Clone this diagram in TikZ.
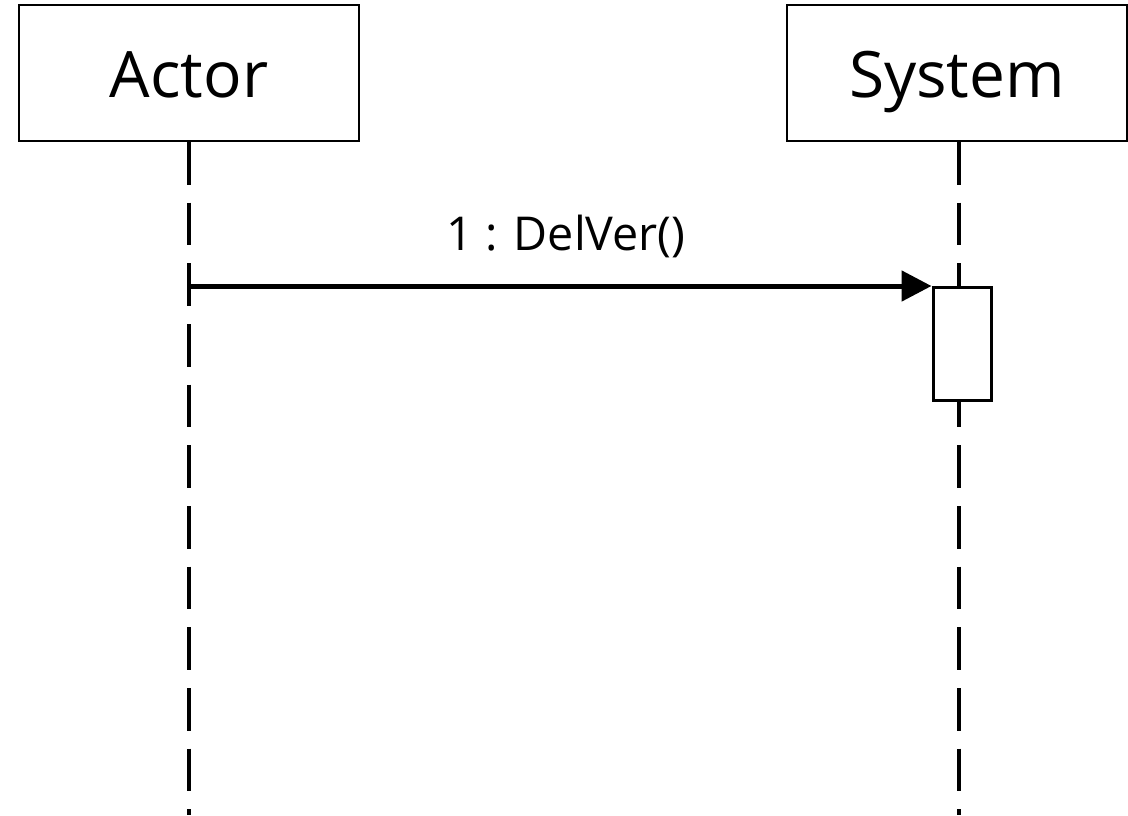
\documentclass[tikz,border=0pt]{standalone}
\usepackage{fontspec}
\setmainfont{Open Sans}
\usetikzlibrary{arrows.meta,positioning}

\begin{document}
\begin{tikzpicture}[x=0.75pt,y=-0.75pt,
    obj/.style={draw,line width=1.5pt,minimum width=255pt,minimum height=102pt,inner sep=0pt,
                text height=36pt,text depth=0pt,font=\fontsize{48}{58}\selectfont},
    life/.style={line width=3pt,dash pattern=on 32pt off 13.5pt},
    exec/.style={draw,fill=white,line width=2.25pt,minimum width=43.5pt,minimum height=85pt,inner sep=0pt},
    msg/.style={line width=3.75pt,-{Triangle[length=22.5pt,width=22.5pt]}}]
    \useasboundingbox (0,0) rectangle (1128,815);

    \node[obj]               (actor) at (189,73)  {Actor};
    \node[obj]               (sys)   at (957,73)  {System};
    \coordinate              (actorend) at (189,815);
    \coordinate              (sysend)   at (959,815);

    \draw[life] (actor.south) -- (actorend);
    \draw[life] (sys.south -| sysend) -- (sysend);

    \node[exec,anchor=north] (act)   at (962,286) {};
    \draw[msg] (actor.south |- act.north) -- (act.north west);
    \node[font=\fontsize{35}{44}\selectfont,anchor=base] (call) at (566,250) {1 : DelVer()};
\end{tikzpicture}
\end{document}
